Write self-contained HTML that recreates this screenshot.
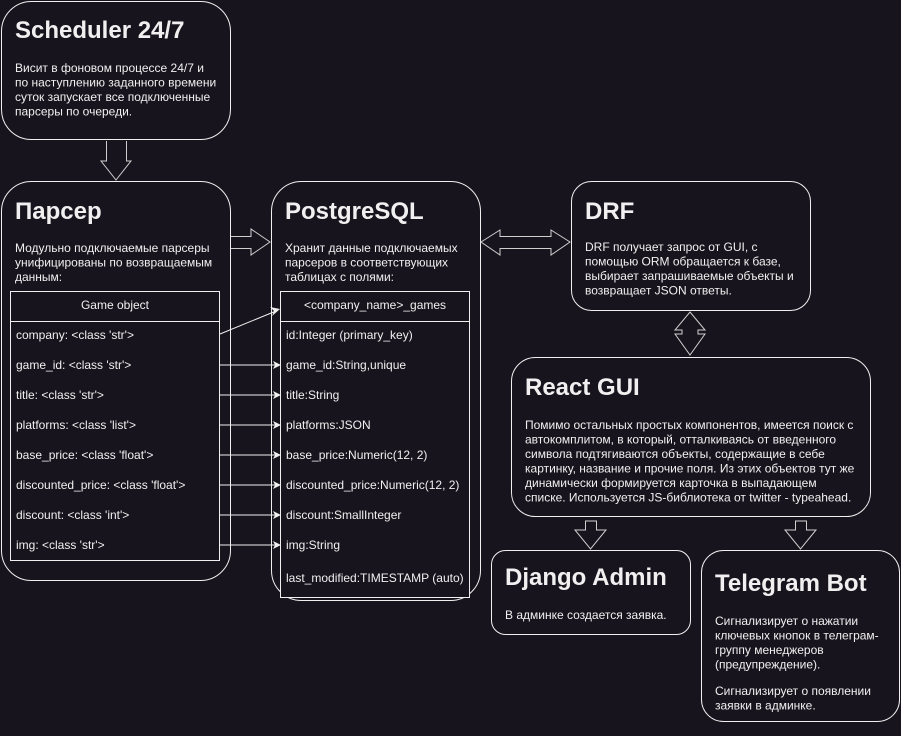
<!DOCTYPE html>
<html><head><meta charset="utf-8"><style>
html,body{margin:0;padding:0;background:#18141d;}
svg{display:block}
text{font-family:"Liberation Sans",Arial,sans-serif;fill:#f0f0f0;}
.t{font-size:24px;font-weight:bold;}
.b{font-size:12px;}
.s{font-size:12px;}
</style></head><body>
<svg width="901" height="736" viewBox="0 0 901 736" xmlns="http://www.w3.org/2000/svg">
<rect width="901" height="736" fill="#18141d"/>
<g fill="#18141d" stroke="#f0f0f0" stroke-width="1">
<rect x="1.5" y="1.5" width="229" height="138" rx="30"/>
<rect x="1.5" y="181.5" width="229" height="399" rx="30"/>
<rect x="271.5" y="181.5" width="209" height="419" rx="30"/>
<rect x="571.5" y="181.5" width="239" height="129" rx="20"/>
<rect x="511.5" y="357.5" width="359" height="159" rx="24"/>
<rect x="491.5" y="550.5" width="199" height="84" rx="14"/>
<rect x="701.5" y="550.5" width="198" height="171" rx="22"/>
<rect x="10.5" y="291.5" width="209" height="269"/>
<line x1="10" y1="321.5" x2="220" y2="321.5"/>
<rect x="280.5" y="291.5" width="189" height="306"/>
<line x1="280" y1="321.5" x2="470" y2="321.5"/>
</g>
<g fill="none" stroke="#cfcfcf" stroke-width="1">
<path d="M106.5,141 V161 H101 L116,180 L131,161 H126.5 V141"/>
<path d="M231,236.5 H251 V229 L270,242 L251,255 V248.5 H231"/>
<path d="M481,242 L500,230 V236.5 H551 V230 L570,242 L551,255 V248.5 H500 V255 Z"/>
<path d="M690,312 L705,330 H698 V334 H705 L690,355 L675,334 H682 V330 H675 Z"/>
<path d="M585.5,521 V530 H575 L590.5,549 L606,530 H596.5 V521 Z"/>
<path d="M795.5,521 V530 H785 L800.5,549 L816,530 H806.5 V521 Z"/>
</g>
<g stroke="#f0f0f0" stroke-width="1" fill="none">
<line x1="220" y1="334" x2="276" y2="311"/>
<line x1="220" y1="365" x2="275" y2="365"/>
<line x1="220" y1="395" x2="275" y2="395"/>
<line x1="220" y1="425" x2="275" y2="425"/>
<line x1="220" y1="455" x2="275" y2="455"/>
<line x1="220" y1="485" x2="275" y2="485"/>
<line x1="220" y1="515" x2="275" y2="515"/>
<line x1="220" y1="545" x2="275" y2="545"/>
</g>
<g fill="#f0f0f0">
<path d="M280,309 L272,316 L274,311 L270,307 Z"/>
<path d="M281,365 L273,361 L275,365 L273,369 Z"/>
<path d="M281,395 L273,391 L275,395 L273,399 Z"/>
<path d="M281,425 L273,421 L275,425 L273,429 Z"/>
<path d="M281,455 L273,451 L275,455 L273,459 Z"/>
<path d="M281,485 L273,481 L275,485 L273,489 Z"/>
<path d="M281,515 L273,511 L275,515 L273,519 Z"/>
<path d="M281,545 L273,541 L275,545 L273,549 Z"/>
</g>
<text class="t" x="15" y="38">Scheduler 24/7</text>
<text class="b" x="15" y="72">Висит в фоновом процессе 24/7 и</text>
<text class="b" x="15" y="86.5">по наступлению заданного времени</text>
<text class="b" x="15" y="101">суток запускает все подключенные</text>
<text class="b" x="15" y="115.5">парсеры по очереди.</text>

<text class="t" x="15" y="219">Парсер</text>
<text class="b" x="15" y="252">Модульно подключаемые парсеры</text>
<text class="b" x="15" y="266.5">унифицированы по возвращаемым</text>
<text class="b" x="15" y="281">данным:</text>
<text class="s" x="115" y="309" text-anchor="middle">Game object</text>
<text class="s" x="16" y="339">company: &lt;class 'str'&gt;</text>
<text class="s" x="16" y="369">game_id: &lt;class 'str'&gt;</text>
<text class="s" x="16" y="399">title: &lt;class 'str'&gt;</text>
<text class="s" x="16" y="429">platforms: &lt;class 'list'&gt;</text>
<text class="s" x="16" y="459">base_price: &lt;class 'float'&gt;</text>
<text class="s" x="16" y="489">discounted_price: &lt;class 'float'&gt;</text>
<text class="s" x="16" y="519">discount: &lt;class 'int'&gt;</text>
<text class="s" x="16" y="549">img: &lt;class 'str'&gt;</text>

<text class="t" x="285" y="219">PostgreSQL</text>
<text class="b" x="285" y="252">Хранит данные подключаемых</text>
<text class="b" x="285" y="266.5">парсеров в соответствующих</text>
<text class="b" x="285" y="281">таблицах с полями:</text>
<text class="s" x="375" y="309" text-anchor="middle">&lt;company_name&gt;_games</text>
<text class="s" x="286" y="339">id:Integer (primary_key)</text>
<text class="s" x="286" y="369">game_id:String,unique</text>
<text class="s" x="286" y="399">title:String</text>
<text class="s" x="286" y="429">platforms:JSON</text>
<text class="s" x="286" y="459">base_price:Numeric(12, 2)</text>
<text class="s" x="286" y="489">discounted_price:Numeric(12, 2)</text>
<text class="s" x="286" y="519">discount:SmallInteger</text>
<text class="s" x="286" y="549">img:String</text>
<text class="s" x="286" y="582">last_modified:TIMESTAMP (auto)</text>

<text class="t" x="585" y="219">DRF</text>
<text class="b" x="585" y="251">DRF получает запрос от GUI, с</text>
<text class="b" x="585" y="265.5">помощью ORM обращается к базе,</text>
<text class="b" x="585" y="280">выбирает запрашиваемые объекты и</text>
<text class="b" x="585" y="294.5">возвращает JSON ответы.</text>

<text class="t" x="525" y="395">React GUI</text>
<text class="b" x="525" y="429">Помимо остальных простых компонентов, имеется поиск с</text>
<text class="b" x="525" y="443.5">автокомплитом, в который, отталкиваясь от введенного</text>
<text class="b" x="525" y="458">символа подтягиваются объекты, содержащие в себе</text>
<text class="b" x="525" y="472.5">картинку, название и прочие поля. Из этих объектов тут же</text>
<text class="b" x="525" y="487">динамически формируется карточка в выпадающем</text>
<text class="b" x="525" y="501.5">списке. Используется JS-библиотека от twitter - typeahead.</text>

<text class="t" x="505" y="585">Django Admin</text>
<text class="b" x="505" y="619">В админке создается заявка.</text>

<text class="t" x="715" y="591">Telegram Bot</text>
<text class="b" x="715" y="625">Сигнализирует о нажатии</text>
<text class="b" x="715" y="639.5">ключевых кнопок в телеграм-</text>
<text class="b" x="715" y="654">группу менеджеров</text>
<text class="b" x="715" y="668.5">(предупреждение).</text>
<text class="b" x="715" y="695">Сигнализирует о появлении</text>
<text class="b" x="715" y="709.5">заявки в админке.</text>
</svg>
</body></html>
